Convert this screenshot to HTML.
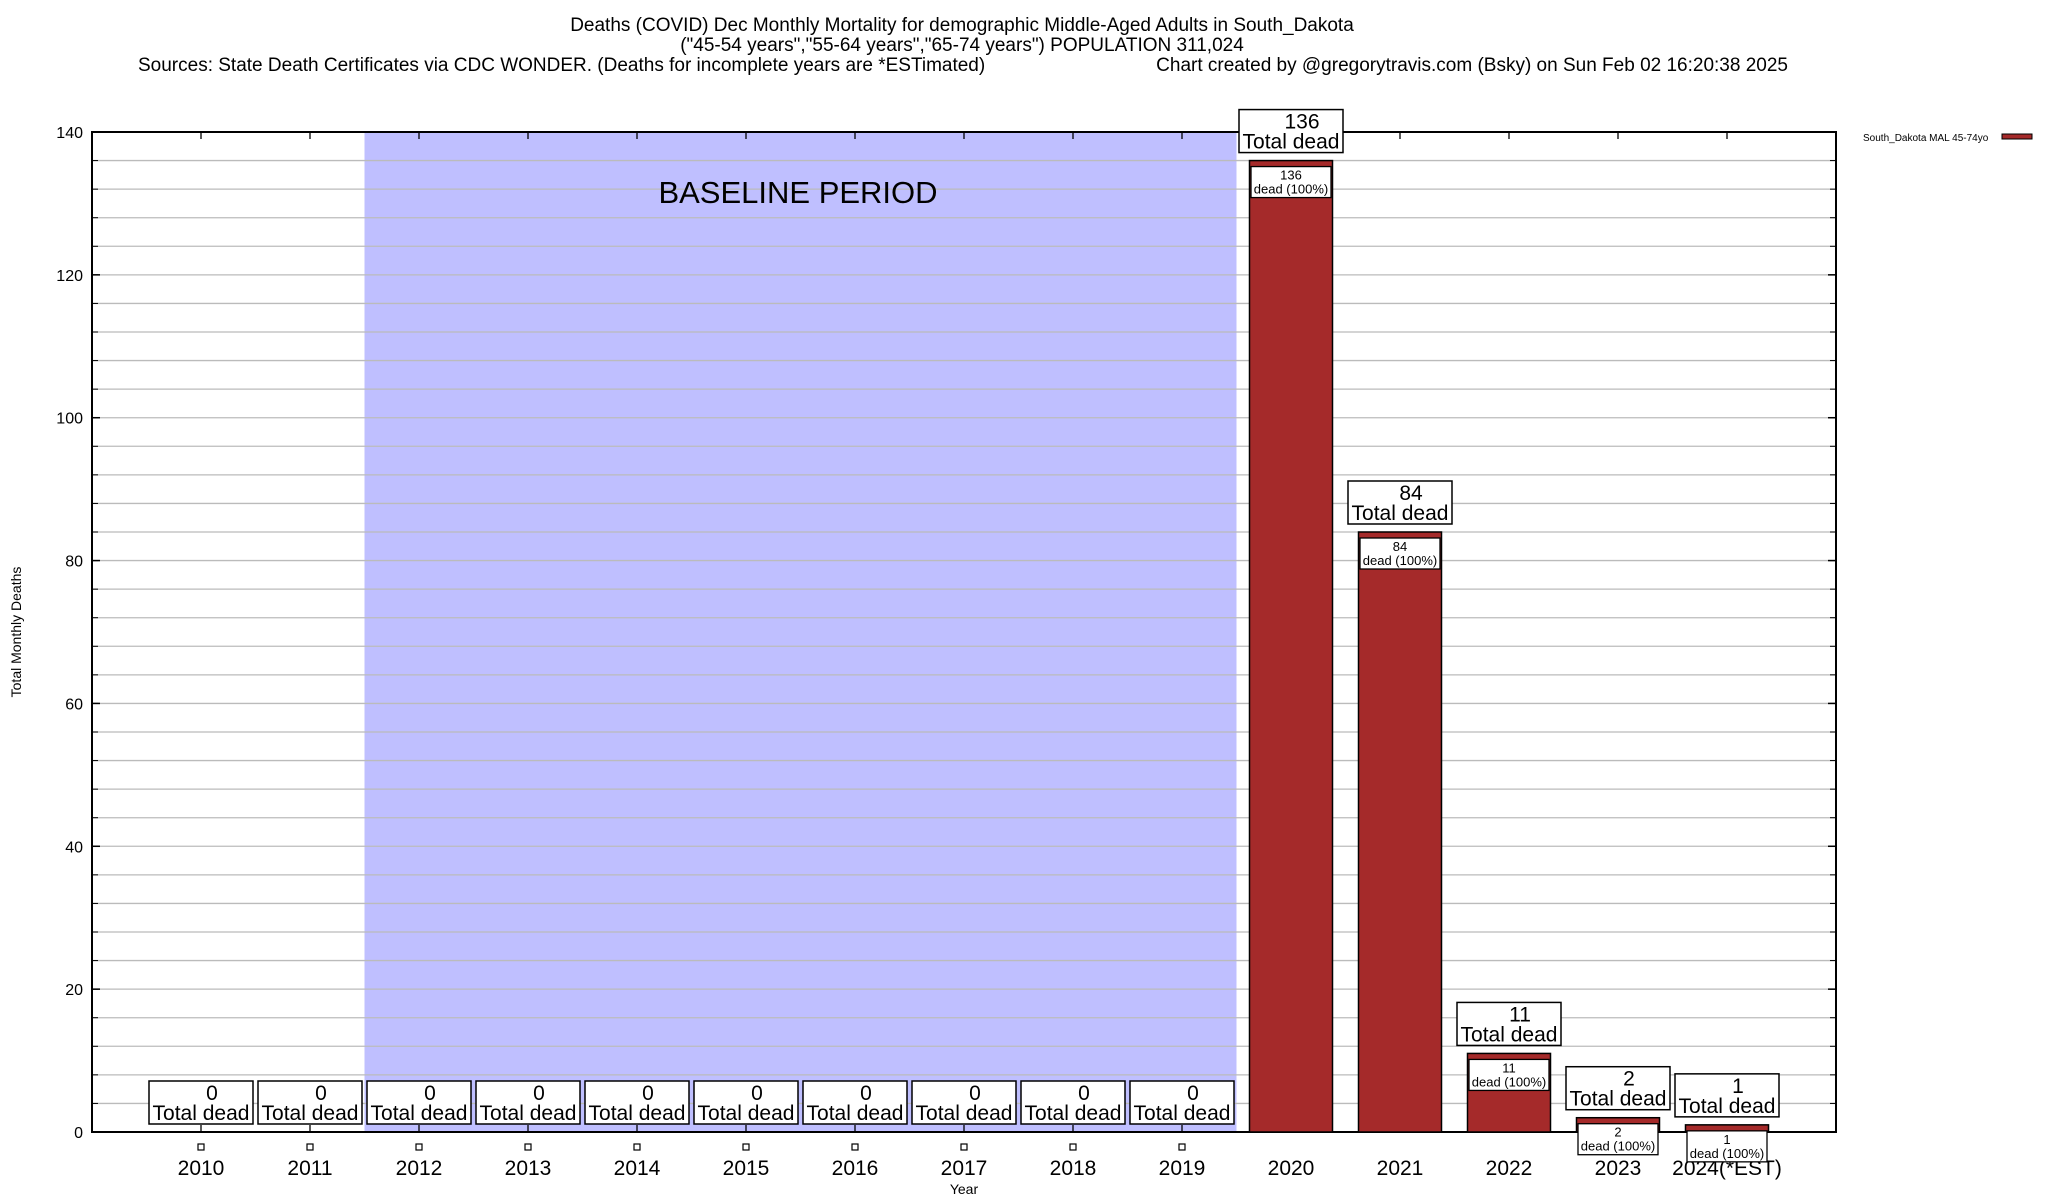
<!DOCTYPE html>
<html><head><meta charset="utf-8"><style>
body{margin:0;background:#fff}
svg{display:block;font-family:"Liberation Sans",sans-serif}
</style></head><body>
<svg id="chart" width="2048" height="1200" viewBox="0 0 2048 1200" xmlns="http://www.w3.org/2000/svg">
<g font-size="19" text-anchor="middle">
<text x="962" y="31">Deaths (COVID) Dec Monthly Mortality for demographic Middle-Aged Adults in South_Dakota</text>
<text x="962" y="51">("45-54 years","55-64 years","65-74 years") POPULATION 311,024</text>
<text x="138" y="71" text-anchor="start">Sources: State Death Certificates via CDC WONDER. (Deaths for incomplete years are *ESTimated)</text>
<text x="1788" y="71" text-anchor="end">Chart created by @gregorytravis.com (Bsky) on Sun Feb 02 16:20:38 2025</text>
</g>
<g id="plot"></g>
</svg>
<script>
const categories=["2010","2011","2012","2013","2014","2015","2016","2017","2018","2019","2020","2021","2022","2023","2024(*EST)"];
const deaths=[0,0,0,0,0,0,0,0,0,0,136,84,11,2,1];
const yTicks=[0,20,40,60,80,100,120,140];
const baselineStart=2, baselineEnd=9;
const NS="http://www.w3.org/2000/svg";
const L=92,R=1836,T=132,B=1132,yMax=140;
const xc=i=>201+109*i;
const y=v=>B-(B-T)*v/yMax;
const g=document.getElementById('plot');
function mk(tag,attrs,parent){const e=document.createElementNS(NS,tag);for(const k in attrs)e.setAttribute(k,attrs[k]);(parent||g).appendChild(e);return e;}
// baseline band
const band=mk('rect',{x:xc(baselineStart)-54.5,y:T,width:109*(baselineEnd-baselineStart+1),height:B-T,fill:'#bfbfff'});


// grid
for(let v=4;v<yMax;v+=4){
  const ln=mk('line',{x1:L,x2:R,y1:y(v),y2:y(v),stroke:'#bbb','stroke-width':1.3});
  
  
  mk('line',{x1:L,x2:L+6,y1:y(v),y2:y(v),stroke:'#000','stroke-width':1});
  mk('line',{x1:R-6,x2:R,y1:y(v),y2:y(v),stroke:'#000','stroke-width':1});
}
const bl=mk('text',{x:798,y:203,'font-size':31,'text-anchor':'middle'});
bl.textContent='BASELINE PERIOD';


// axes frame
const fr=mk('rect',{x:L,y:T,width:R-L,height:B-T,fill:'none',stroke:'#000','stroke-width':2});


yTicks.forEach(v=>{
  const t=mk('text',{x:83,y:y(v)+6,'font-size':16,'text-anchor':'end'});
  t.textContent=v;
  
  
  mk('line',{x1:L,x2:L+8,y1:y(v),y2:y(v),stroke:'#000','stroke-width':1.5});
  mk('line',{x1:R-8,x2:R,y1:y(v),y2:y(v),stroke:'#000','stroke-width':1.5});
});
categories.forEach((c,i)=>{
  const x=xc(i),v=deaths[i],top=y(v);
  mk('line',{x1:x,x2:x,y1:B,y2:B-7,stroke:'#000','stroke-width':1.3});
  mk('line',{x1:x,x2:x,y1:T,y2:T+7,stroke:'#000','stroke-width':1.3});
  const lab=mk('text',{x:x,y:1175,'font-size':21,'text-anchor':'middle'});
  lab.textContent=c;
  
  
  if(v>0){
    const bar=mk('rect',{x:x-41.5,y:top,width:83,height:B-top,fill:'#a52a2a',stroke:'#000','stroke-width':1.5});
    
    
    const ib=mk('rect',{x:x-40,y:top+6,width:80,height:31,fill:'#fff',stroke:'#000','stroke-width':1.3});
    
    
    const t1=mk('text',{x:x,y:top+19,'font-size':13,'text-anchor':'middle'});t1.textContent=v;
    
    
    const t2=mk('text',{x:x,y:top+33,'font-size':13,'text-anchor':'middle'});t2.textContent='dead (100%)';
    
    
  } else {
    const sq=mk('rect',{x:x-3,y:1144,width:6,height:6,fill:'#fff',stroke:'#000','stroke-width':1.2});
    
    
  }
  const by=top-51;
  const box=mk('rect',{x:x-52,y:by,width:104,height:43,fill:'#fff',stroke:'#000','stroke-width':1.5});
  
  
  const n=mk('text',{x:x+11,y:by+19,'font-size':21,'text-anchor':'middle'});n.textContent=v;
  
  
  const td=mk('text',{x:x,y:by+39,'font-size':21,'text-anchor':'middle'});td.textContent='Total dead';
  
  
});
const yt=mk('text',{x:0,y:0,'font-size':14,'text-anchor':'middle',transform:'translate(21,632) rotate(-90)'});
yt.textContent='Total Monthly Deaths';


const xt=mk('text',{x:964,y:1194,'font-size':14,'text-anchor':'middle'});
xt.textContent='Year';


const lg=mk('text',{x:1863,y:141,'font-size':10});
lg.textContent='South_Dakota MAL 45-74yo';


const sw=mk('rect',{x:2002,y:134,width:30,height:5,fill:'#a52a2a',stroke:'#000','stroke-width':1});


</script>
</body></html>
